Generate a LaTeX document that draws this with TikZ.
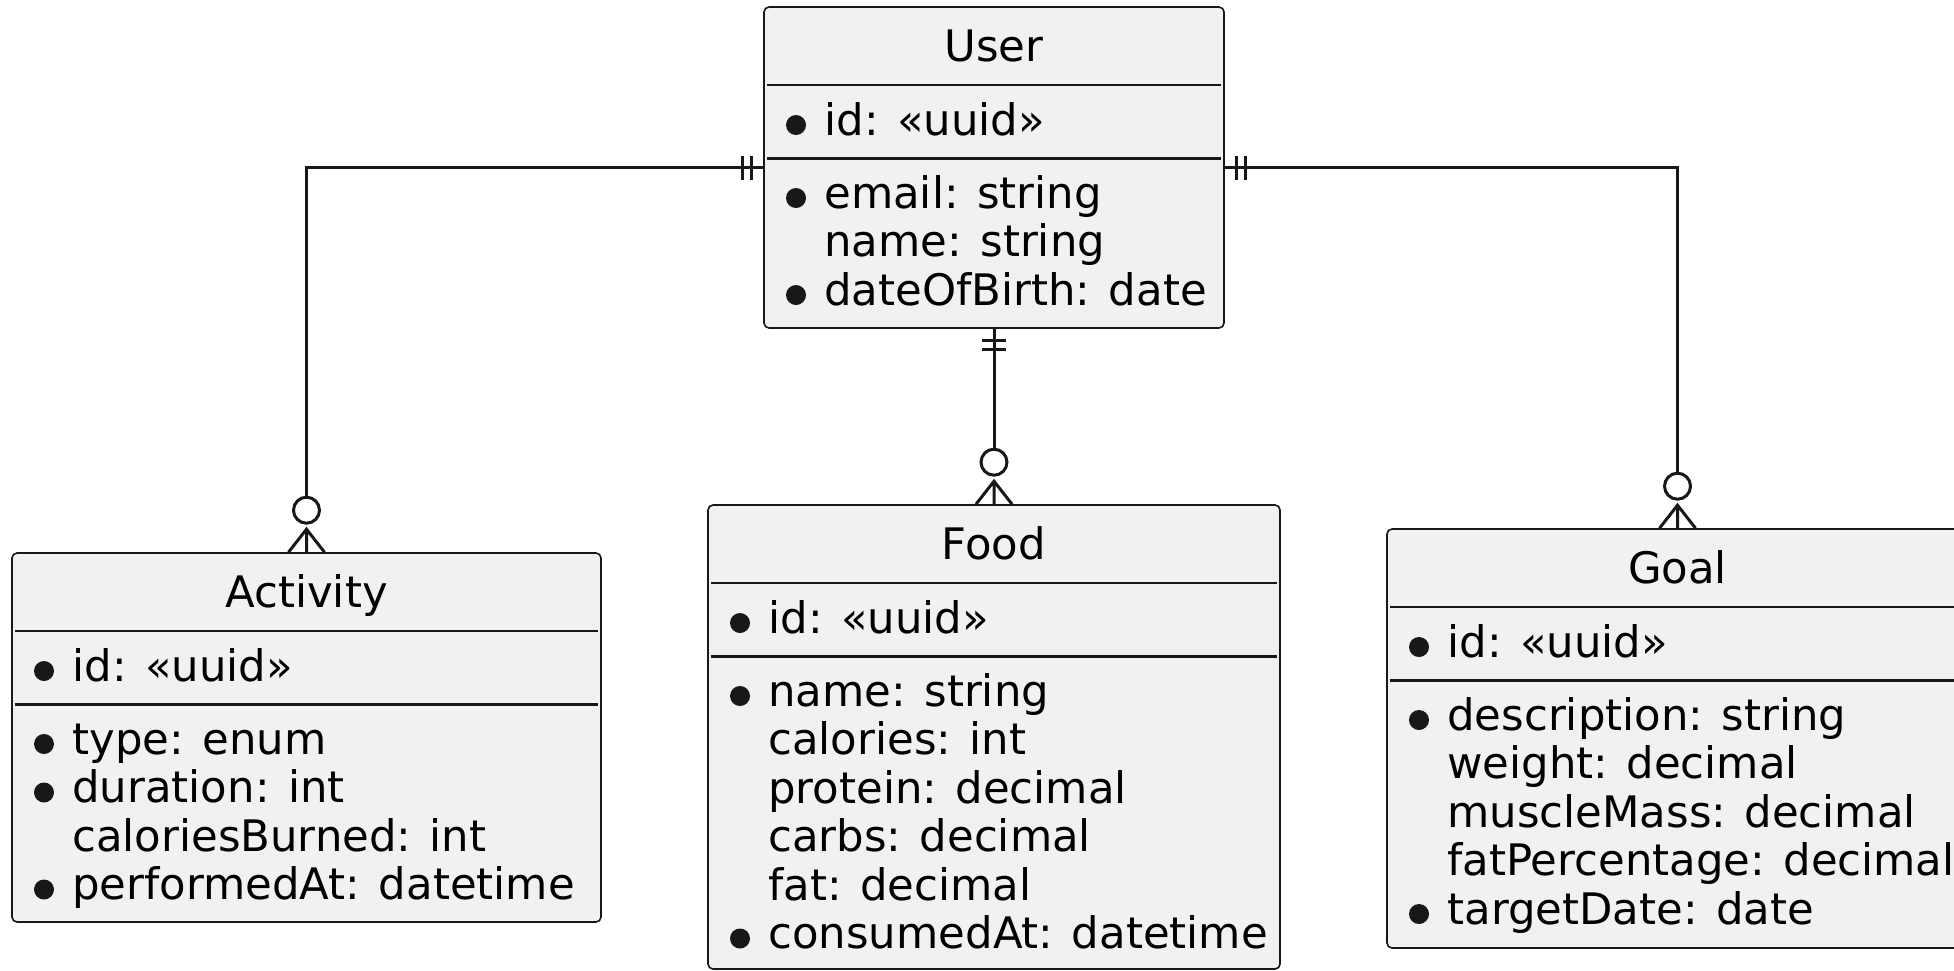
\documentclass[tikz,border=0pt]{standalone}
\usepackage{fontspec}
\setmainfont{DejaVu Sans}
\usetikzlibrary{fit,calc}
\definecolor{boxfill}{HTML}{F1F1F1}
\definecolor{ink}{HTML}{181818}

\begin{document}
\begin{tikzpicture}[x=0.5pt,y=-0.5pt,
    entity/.style={draw=ink,fill=boxfill,line width=0.8pt,rounded corners=2.5pt,inner sep=0pt},
    title/.style={anchor=base,inner sep=0pt,font=\fontsize{21.7}{24}\selectfont},
    attr/.style={anchor=base west,inner sep=0pt,font=\fontsize{21.7}{24}\selectfont},
    thinsep/.style={draw=ink,line width=0.7pt},
    thicksep/.style={draw=ink,line width=1.5pt},
    rel/.style={draw=ink,line width=1.5pt},
    exactlyone/.pic={\draw[rel] (12,-12) -- (12,12) (21,-12) -- (21,12);},
    zeromany/.pic={\draw[rel] (0,-18) -- (23,0) -- (0,18) (0,0) -- (23,0) (42,0) circle (13);}
  ]
      \useasboundingbox (0,0) rectangle (1954,970);
      \clip (0,0) rectangle (1954,970);

      % User
      \node[entity, fit={(764,7) (1224,328)}] (user) {};
      \node[title] (user-title) at (994,61) {User};
      \draw[thinsep] (767,85) -- (1221,85);
      \fill[ink] (796,125) circle (10);
      \node[attr] (user-id) at (824,135) {id: «uuid»};
      \draw[thicksep] (767,158) -- (1221,158);
      \foreach \b/\t [count=\i from 0] in {1/email: string,0/name: string,1/dateOfBirth: date}{
        \node[attr] (user-a\i) at (824,{208+48.5*\i}) {\t};
        \ifnum\b=1 \fill[ink] (796,{198+48.5*\i}) circle (10); \fi
      }

      % Activity
      \node[entity, fit={(12,553) (601,922)}] (activity) {};
      \node[title] (activity-title) at (306.5,607) {Activity};
      \draw[thinsep] (15,631) -- (598,631);
      \fill[ink] (44,671) circle (10);
      \node[attr] (activity-id) at (72,681) {id: «uuid»};
      \draw[thicksep] (15,704) -- (598,704);
      \foreach \b/\t [count=\i from 0] in {1/type: enum,1/duration: int,0/caloriesBurned: int,1/performedAt: datetime}{
        \node[attr] (activity-a\i) at (72,{754+48.5*\i}) {\t};
        \ifnum\b=1 \fill[ink] (44,{744+48.5*\i}) circle (10); \fi
      }

      % Food
      \node[entity, fit={(708,505) (1280,969)}] (food) {};
      \node[title] (food-title) at (994,559) {Food};
      \draw[thinsep] (711,583) -- (1277,583);
      \fill[ink] (740,623) circle (10);
      \node[attr] (food-id) at (768,633) {id: «uuid»};
      \draw[thicksep] (711,656) -- (1277,656);
      \foreach \b/\t [count=\i from 0] in {1/name: string,0/calories: int,0/protein: decimal,0/carbs: decimal,0/fat: decimal,1/consumedAt: datetime}{
        \node[attr] (food-a\i) at (768,{706+48.5*\i}) {\t};
        \ifnum\b=1 \fill[ink] (740,{696+48.5*\i}) circle (10); \fi
      }

      % Goal
      \node[entity, fit={(1387,529) (1968,948)}] (goal) {};
      \node[title] (goal-title) at (1677.5,583) {Goal};
      \draw[thinsep] (1390,607) -- (1965,607);
      \fill[ink] (1419,647) circle (10);
      \node[attr] (goal-id) at (1447,657) {id: «uuid»};
      \draw[thicksep] (1390,680) -- (1965,680);
      \foreach \b/\t [count=\i from 0] in {1/description: string,0/weight: decimal,0/muscleMass: decimal,0/fatPercentage: decimal,1/targetDate: date}{
        \node[attr] (goal-a\i) at (1447,{730+48.5*\i}) {\t};
        \ifnum\b=1 \fill[ink] (1419,{720+48.5*\i}) circle (10); \fi
      }

      % relations
      \draw[rel] (user.west) -| ($(activity.north)+(0,-55)$);
      \pic[rotate=180] at (user.west) {exactlyone};
      \pic[rotate=90] at (activity.north) {zeromany};

      \draw[rel] (user.south) -- ($(food.north)+(0,-55)$);
      \pic[rotate=-90] at (user.south) {exactlyone};
      \pic[rotate=90] at (food.north) {zeromany};

      \draw[rel] (user.east) -| ($(goal.north)+(0,-55)$);
      \pic at (user.east) {exactlyone};
      \pic[rotate=90] at (goal.north) {zeromany};
    \end{tikzpicture}
\end{document}
